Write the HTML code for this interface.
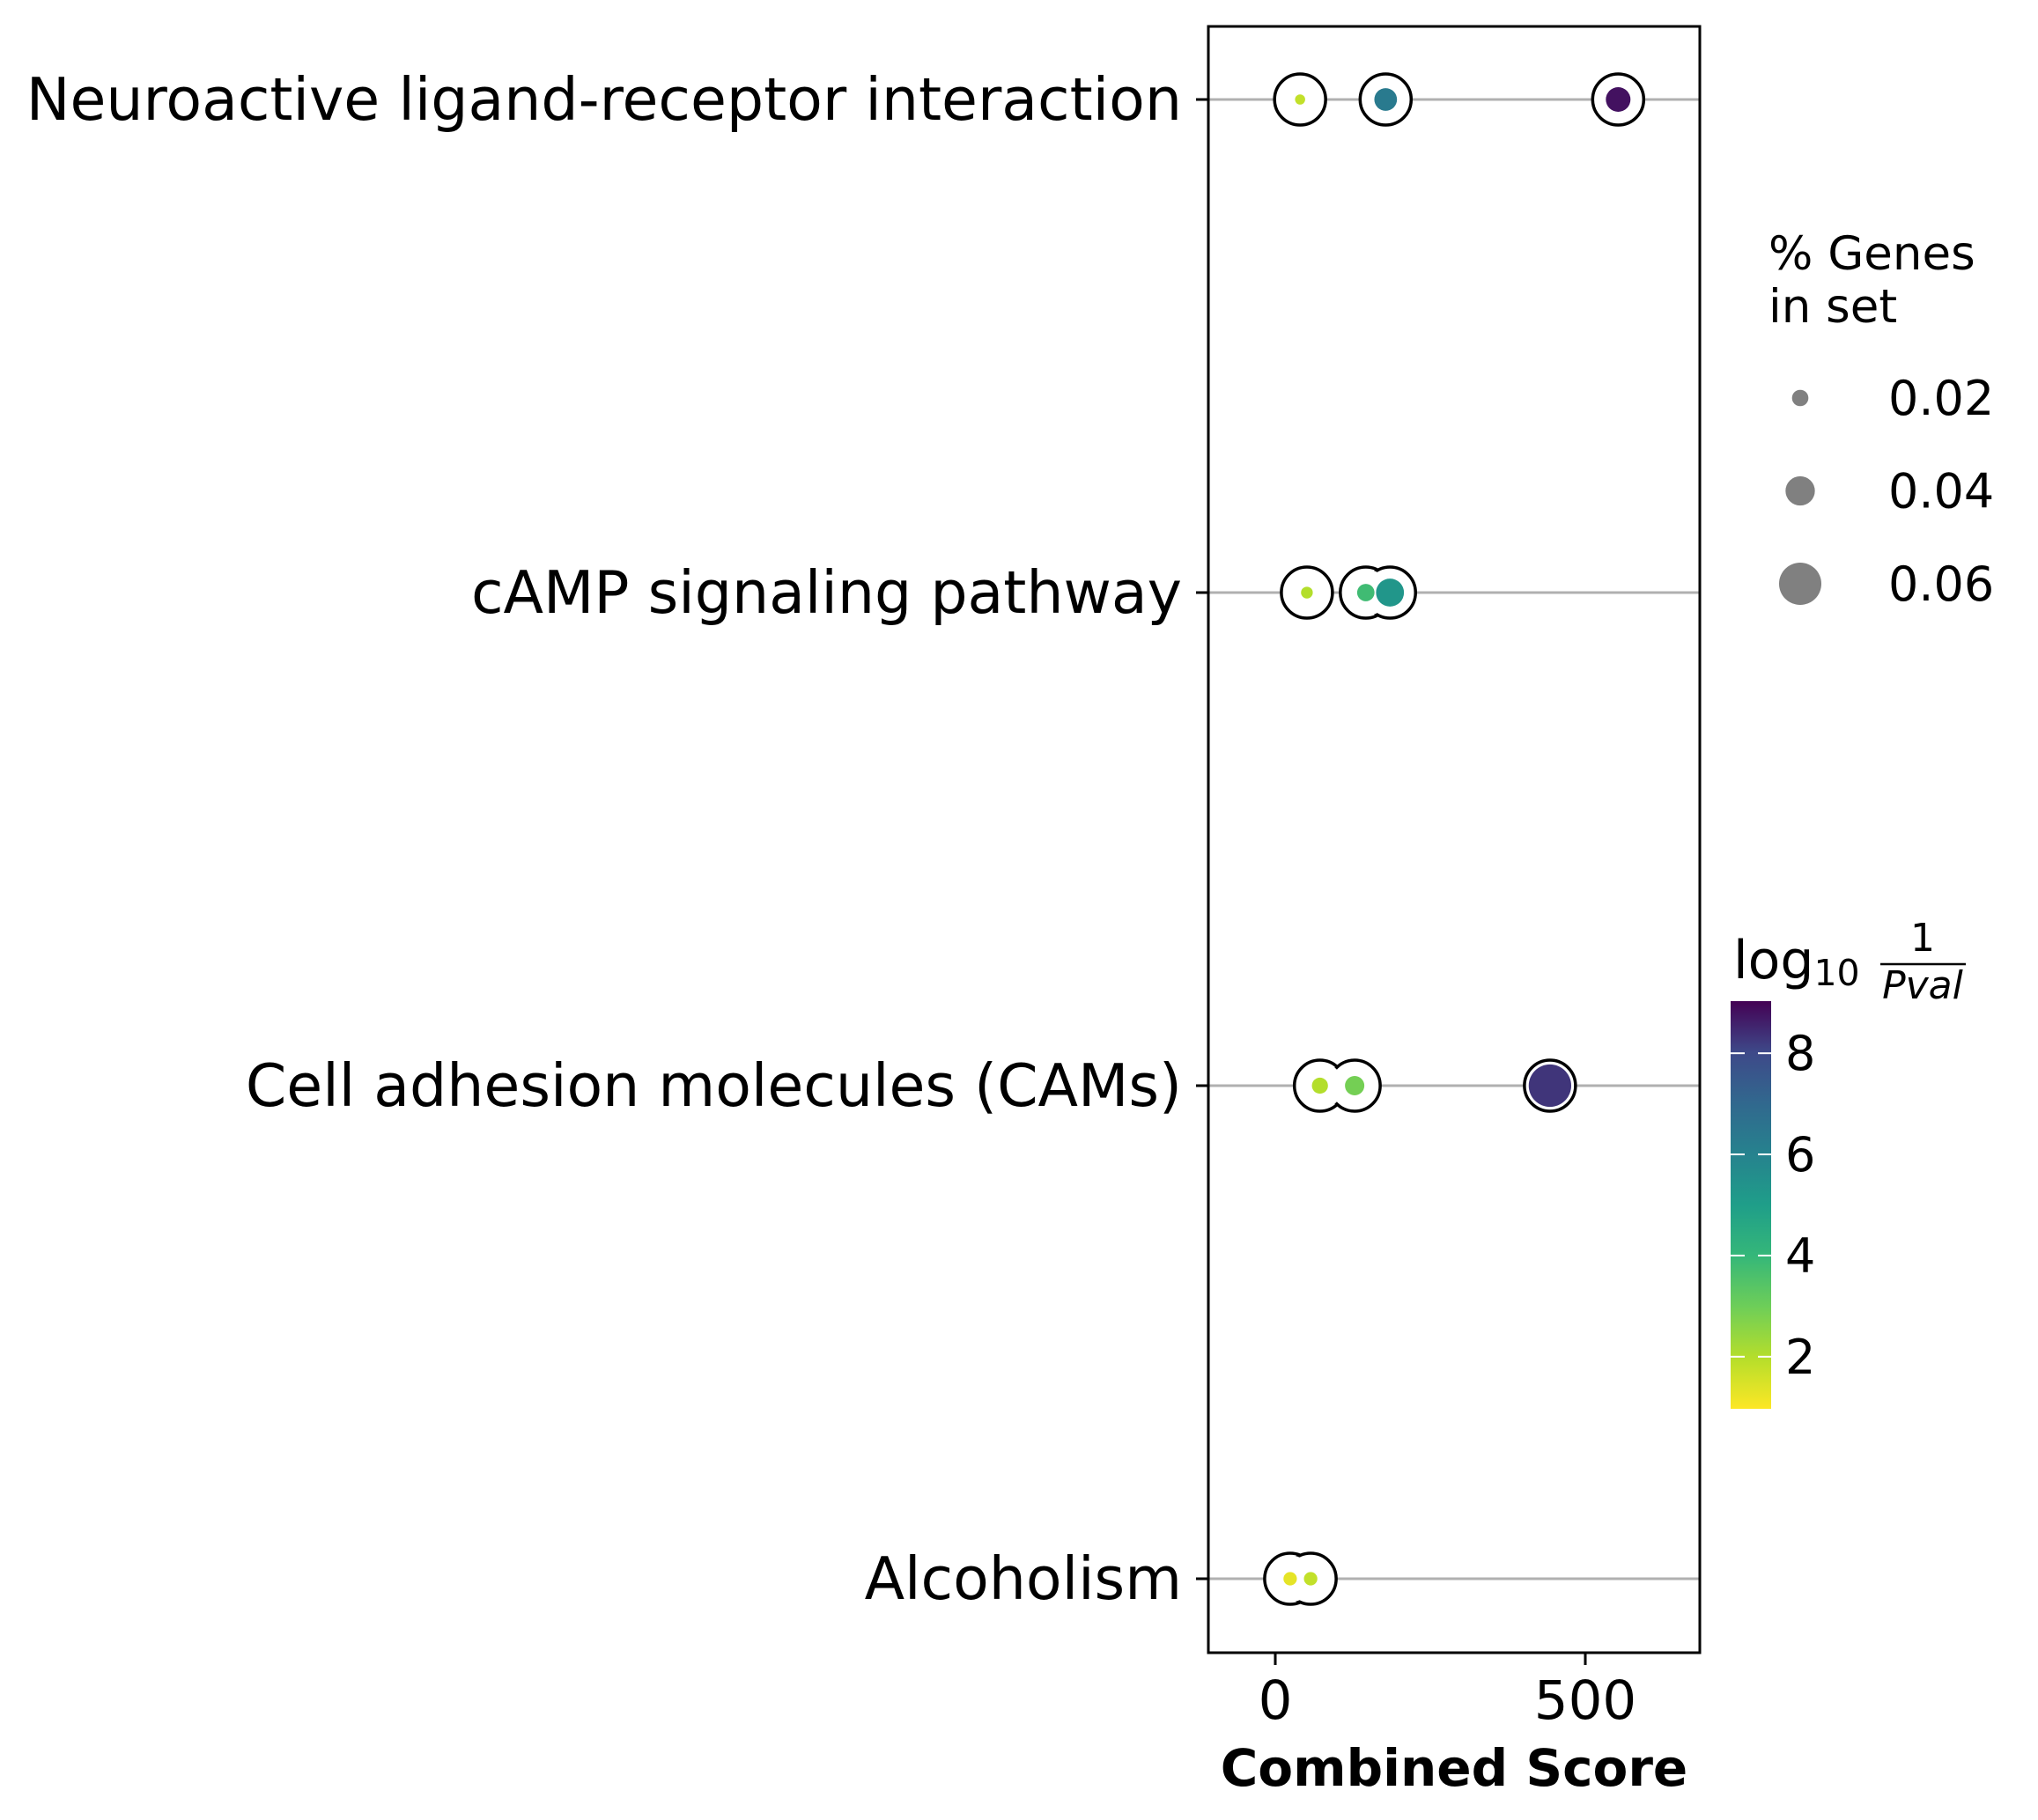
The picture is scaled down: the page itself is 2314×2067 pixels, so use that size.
<!DOCTYPE html>
<html><head><meta charset="utf-8"><style>
body{margin:0;background:#fff;}
svg{display:block;font-family:"DejaVu Sans","Liberation Sans",sans-serif;}
</style></head><body>
<svg id="chart" width="2314" height="2067" viewBox="0 0 2314 2067" xmlns="http://www.w3.org/2000/svg">
<defs>
<linearGradient id="viridis" x1="0" y1="1" x2="0" y2="0">
<stop offset="0" stop-color="#fde725"/><stop offset="0.125" stop-color="#b5de2b"/><stop offset="0.25" stop-color="#6ece58"/><stop offset="0.375" stop-color="#35b779"/><stop offset="0.5" stop-color="#1f9e89"/><stop offset="0.625" stop-color="#26828e"/><stop offset="0.75" stop-color="#31688e"/><stop offset="0.875" stop-color="#3e4989"/><stop offset="1" stop-color="#440154"/>
</linearGradient>
</defs>
<g id="plot"></g>
</svg>
<script>
const categories = ["Neuroactive ligand-receptor interaction","cAMP signaling pathway","Cell adhesion molecules (CAMs)","Alcoholism"];
const rowIndex = [0,0,0,1,1,1,2,2,2,3,3];
const scores = [40,178,553,51,146,185,72,128,443,24,57];
const genePct = [0.010,0.029,0.032,0.0125,0.021,0.037,0.019,0.024,0.059,0.015,0.015];
const logP = [1.8,6.3,8.8,2.0,3.8,5.3,2.0,2.9,8.3,1.3,1.8];
const xTicks = [0,500];
const cbTicks = [2,4,6,8];
const sizeLegend = [0.02,0.04,0.06];

const NS="http://www.w3.org/2000/svg";
const g=document.getElementById('plot');
function mk(tag,attrs,parent){const e=document.createElementNS(NS,tag);for(const k in attrs)e.setAttribute(k,attrs[k]);(parent||g).appendChild(e);return e;}
const L=1372,R=1930,T=30,B=1877;
const x=v=>1448+(v-0)*0.704;
const y=i=>113+i*560;
const r=p=>375*p+2;
const cbTop=1137,cbBot=1600,cbMin=0.97,cbMax=9.03;
const cy=v=>cbBot-(v-cbMin)/(cbMax-cbMin)*(cbBot-cbTop);
const stops=[[0,[253,231,37]],[0.125,[181,222,43]],[0.25,[110,206,88]],[0.375,[53,183,121]],[0.5,[31,158,137]],[0.625,[38,130,142]],[0.75,[49,104,142]],[0.875,[62,73,137]],[1,[68,1,84]]];
function color(v){let t=(v-cbMin)/(cbMax-cbMin);t=Math.max(0,Math.min(1,t));for(let i=1;i<stops.length;i++){if(t<=stops[i][0]){const a=stops[i-1],b=stops[i];const f=(t-a[0])/(b[0]-a[0]);const c=a[1].map((q,j)=>Math.round(q+(b[1][j]-q)*f));return `rgb(${c})`;}}return 'rgb(68,1,84)';}

categories.forEach((c,i)=>{
  const gl=mk('line',{x1:L,x2:R,y1:y(i),y2:y(i),stroke:'#b0b0b0','stroke-width':3});
  
  
  const tk=mk('line',{x1:L-14,x2:L,y1:y(i),y2:y(i),stroke:'#000','stroke-width':3});
  
  
  const t=mk('text',{x:L-30,y:y(i)+23,'text-anchor':'end','font-size':66.5,fill:'#000'});
  t.textContent=c;
  
  
});
scores.forEach((s,k)=>{
  const o=mk('circle',{cx:x(s),cy:y(rowIndex[k]),r:29,fill:'#fff',stroke:'#000','stroke-width':3.5});
  
  
});
scores.forEach((s,k)=>{
  const o=mk('circle',{cx:x(s),cy:y(rowIndex[k]),r:26.5,fill:'#fff'});
  
  
});
scores.forEach((s,k)=>{
  const d=mk('circle',{cx:x(s),cy:y(rowIndex[k]),r:r(genePct[k]),fill:color(logP[k])});
  
  
});
const fr=mk('rect',{x:L,y:T,width:R-L,height:B-T,fill:'none',stroke:'#000','stroke-width':3});


xTicks.forEach(v=>{
  const tk=mk('line',{x1:x(v),x2:x(v),y1:B,y2:B+14,stroke:'#000','stroke-width':3});
  
  
  const t=mk('text',{x:x(v),y:1952,'text-anchor':'middle','font-size':61});
  t.textContent=v;
  
  
});
const xt=mk('text',{x:(L+R)/2,y:2028,'text-anchor':'middle','font-size':58,'font-weight':'bold'});
xt.textContent='Combined Score';



const lt1=mk('text',{x:2008,y:306,'font-size':53});lt1.textContent='% Genes';


const lt2=mk('text',{x:2008,y:366,'font-size':53});lt2.textContent='in set';


sizeLegend.forEach((p,i)=>{
  const yy=452+i*105.5;
  const c=mk('circle',{cx:2044,cy:yy,r:r(p)*0.98,fill:'#808080'});
  
  
  const t=mk('text',{x:2144,y:yy+19,'font-size':54});t.textContent=p.toFixed(2);
  
  
});

const cb=mk('rect',{x:1965,y:cbTop,width:46,height:cbBot-cbTop,fill:'url(#viridis)'});


cbTicks.forEach(v=>{
  const a=mk('line',{x1:1965,x2:1981,y1:cy(v),y2:cy(v),stroke:'#fff','stroke-width':2});
  
  
  const b=mk('line',{x1:1996,x2:2011,y1:cy(v),y2:cy(v),stroke:'#fff','stroke-width':2});
  
  
  const t=mk('text',{x:2027,y:cy(v)+19,'font-size':54});t.textContent=v;
  
  
});
const ct=mk('text',{x:1968,y:1111,'font-size':60});


ct.innerHTML='log<tspan font-size="41" dy="8">10</tspan>';
const f1=mk('text',{x:2183,y:1080,'font-size':44,'text-anchor':'middle'});f1.textContent='1';


const fl=mk('line',{x1:2135,x2:2232,y1:1095,y2:1095,stroke:'#000','stroke-width':2.5});


const f2=mk('text',{x:2183,y:1134,'font-size':44,'text-anchor':'middle','font-style':'italic'});f2.textContent='Pval';


</script>
</body></html>
